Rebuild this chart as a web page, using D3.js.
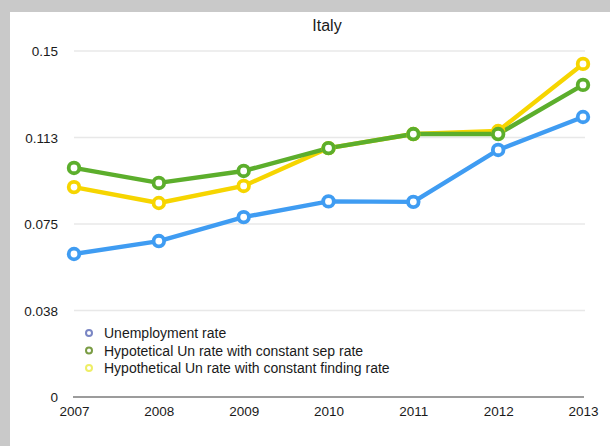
<!DOCTYPE html>
<html>
<head>
<meta charset="utf-8">
<script src="https://cdn.jsdelivr.net/npm/d3@7"></script>
<style>
  html, body { margin: 0; padding: 0; background: #c9c9c9; }
  svg { display: block; }
  text { font-family: "Liberation Sans", Arial, Helvetica, sans-serif; fill: #1a1a1a; }
</style>
</head>
<body>
<svg id="chart" width="610" height="446"></svg>
<script>
// Italy: unemployment rate vs. hypothetical rates
const years = [2007, 2008, 2009, 2010, 2011, 2012, 2013];
const unemploymentRate = [0.0620, 0.0676, 0.0780, 0.0848, 0.0846, 0.1071, 0.1214];
const constSepRate     = [0.0993, 0.0928, 0.0980, 0.1079, 0.1140, 0.1140, 0.1353];
const constFindingRate = [0.0910, 0.0841, 0.0915, 0.1079, 0.1140, 0.1153, 0.1444];
const yTicks = [0, 0.0375, 0.075, 0.1125, 0.15];
const yTickLabels = ["0", "0.038", "0.075", "0.113", "0.15"];
const seriesNames = [
  "Unemployment rate",
  "Hypotetical Un rate with constant sep rate",
  "Hypothetical Un rate with constant finding rate"
];
const chartTitle = "Italy";

const series = [
  { name: seriesNames[2], values: constFindingRate, color: "#f6d500", legend: "#eeee66" },
  { name: seriesNames[1], values: constSepRate,     color: "#5cae2c", legend: "#7a9c44" },
  { name: seriesNames[0], values: unemploymentRate, color: "#3f9cf2", legend: "#7a86c4" }
];

const svg = d3.select("#chart");

// white panel inside the grey frame
svg.append("rect").attr("x", 10).attr("y", 12).attr("width", 600).attr("height", 434).attr("fill", "#ffffff");

const x = d3.scaleLinear().domain([2007, 2013]).range([74, 583]);
const y = d3.scaleLinear().domain([0, 0.15]).range([397, 51]);

// title
svg.append("text").attr("x", 327).attr("y", 31).attr("text-anchor", "middle")
  .style("font-size", "16px").text(chartTitle);

// horizontal gridlines
svg.append("g").selectAll("line").data(yTicks.slice(1)).join("line")
  .attr("x1", 74).attr("x2", 585)
  .attr("y1", d => y(d)).attr("y2", d => y(d))
  .attr("stroke", "#e8e8e8").attr("stroke-width", 1.5);

// y axis labels
const yAxis = d3.axisLeft(y).tickValues(yTicks)
  .tickFormat((d, i) => yTickLabels[i]).tickSize(0).tickPadding(0);
const gy = svg.append("g").attr("transform", "translate(58,0)").call(yAxis);
gy.select(".domain").remove();
gy.selectAll("text").style("font-size", "13.5px").attr("fill", "#1a1a1a").attr("dy", "0.34em");

// baseline
svg.append("line").attr("x1", 73).attr("x2", 584).attr("y1", y(0)).attr("y2", y(0))
  .attr("stroke", "#3a3a3a").attr("stroke-width", 1.2);

// x axis labels
const xAxis = d3.axisBottom(x).tickValues(years).tickFormat(d3.format("d")).tickSize(0).tickPadding(0);
const gx = svg.append("g").attr("transform", `translate(0,${y(0)})`).call(xAxis);
gx.select(".domain").remove();
gx.selectAll("text").style("font-size", "13.5px").attr("fill", "#1a1a1a").attr("y", 19).attr("dy", 0);

// lines and markers
const line = d3.line().x((d, i) => x(years[i])).y(d => y(d));
series.forEach(s => {
  svg.append("path").datum(s.values).attr("d", line)
    .attr("fill", "none").attr("stroke", s.color).attr("stroke-width", 4.4)
    .attr("stroke-linejoin", "round");
});
series.forEach(s => {
  svg.append("g").selectAll("circle").data(s.values).join("circle")
    .attr("cx", (d, i) => x(years[i])).attr("cy", d => y(d)).attr("r", 5.3)
    .attr("fill", "#ffffff").attr("stroke", s.color).attr("stroke-width", 3.8);
});

// legend
const legendItems = [series[2], series[1], series[0]];
const lg = svg.append("g");
legendItems.forEach((s, i) => {
  const ly = 333 + i * 17.5;
  lg.append("circle").attr("cx", 89).attr("cy", ly).attr("r", 3)
    .attr("fill", "#ffffff").attr("stroke", s.legend).attr("stroke-width", 2);
  lg.append("text").attr("x", 104).attr("y", ly + 5)
    .style("font-size", "14px").text(s.name);
});
</script>
</body>
</html>
